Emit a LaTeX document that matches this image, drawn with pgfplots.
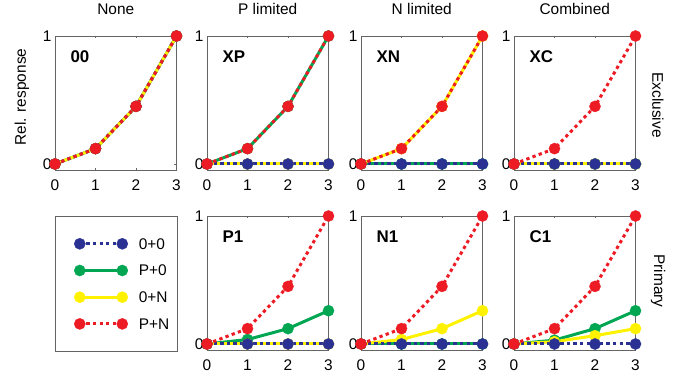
\documentclass[border=0pt]{standalone}
\usepackage{pgfplots}
\pgfplotsset{compat=1.18}
\usepackage{fontspec}
\setmainfont{Liberation Sans}
\definecolor{cB}{RGB}{43,49,146}
\definecolor{cG}{RGB}{0,166,81}
\definecolor{cY}{RGB}{255,242,0}
\definecolor{cR}{RGB}{237,28,36}
\definecolor{axgray}{RGB}{100,100,100}
\newcommand{\fs}{\fontsize{15.5}{18}\selectfont}
\newcommand{\fl}{\fontsize{17}{20}\selectfont\bfseries}
\pgfplotsset{
 panel/.style={scale only axis, width=121.5bp, height=134bp,
   xmin=0, xmax=3, ymin=-0.047, ymax=1, xtick={0,1,2,3}, ytick={0,1},
   clip=false, anchor=south west,
   axis line style={draw=axgray, line width=0.8bp},
   tick style={draw=axgray, line width=0.8bp}, major tick length=2bp,
   tick label style={font=\fs}, /pgf/number format/assume math mode=true,
   xticklabel style={yshift=-6.5bp},
   title style={at={(0.5,1)}, anchor=base, yshift=15.5bp, font=\fs}},
 sB/.style={color=cB, line width=3bp, dash pattern=on 3.3bp off 3.3bp, mark=*, mark size=5.6bp, mark options={solid, line width=0.3bp, fill=cB}},
 sG/.style={color=cG, line width=3bp, solid, mark=*, mark size=5.6bp, mark options={solid, line width=0.3bp, fill=cG}},
 sY/.style={color=cY, line width=3bp, solid, mark=*, mark size=5.6bp, mark options={solid, line width=0.3bp, fill=cY}},
 sR/.style={color=cR, line width=3bp, dash pattern=on 3.3bp off 3.3bp, mark=*, mark size=5.6bp, mark options={solid, line width=0.3bp, fill=cR}},
}
\begin{document}
\begin{tikzpicture}
\useasboundingbox (0,0) rectangle (692bp,-379bp);
% ---------------- Row 1: Exclusive
\begin{axis}[panel, at={(55bp,-170bp)}, title={None}]
\addplot[sG] coordinates {(0,0) (1,0.12) (2,0.45) (3,1)};
\addplot[sY] coordinates {(0,0) (1,0.12) (2,0.45) (3,1)};
\addplot[sB] coordinates {(0,0) (1,0.12) (2,0.45) (3,1)};
\addplot[sR] coordinates {(0,0) (1,0.12) (2,0.45) (3,1)};
\node[anchor=west, xshift=12bp, font=\fl] at (rel axis cs:0,0.843) {00};
\end{axis}
\begin{axis}[panel, at={(207bp,-170bp)}, title={P limited}]
\addplot[sG] coordinates {(0,0) (1,0.12) (2,0.45) (3,1)};
\addplot[sY] coordinates {(0,0) (1,0) (2,0) (3,0)};
\addplot[sB] coordinates {(0,0) (1,0) (2,0) (3,0)};
\addplot[sR] coordinates {(0,0) (1,0.12) (2,0.45) (3,1)};
\node[anchor=west, xshift=12bp, font=\fl] at (rel axis cs:0,0.843) {XP};
\end{axis}
\begin{axis}[panel, at={(361bp,-170bp)}, title={N limited}]
\addplot[sG] coordinates {(0,0) (1,0) (2,0) (3,0)};
\addplot[sY] coordinates {(0,0) (1,0.12) (2,0.45) (3,1)};
\addplot[sB] coordinates {(0,0) (1,0) (2,0) (3,0)};
\addplot[sR] coordinates {(0,0) (1,0.12) (2,0.45) (3,1)};
\node[anchor=west, xshift=12bp, font=\fl] at (rel axis cs:0,0.843) {XN};
\end{axis}
\begin{axis}[panel, at={(514bp,-170bp)}, title={Combined}]
\addplot[sG] coordinates {(0,0) (1,0) (2,0) (3,0)};
\addplot[sY] coordinates {(0,0) (1,0) (2,0) (3,0)};
\addplot[sB] coordinates {(0,0) (1,0) (2,0) (3,0)};
\addplot[sR] coordinates {(0,0) (1,0.12) (2,0.45) (3,1)};
\node[anchor=west, xshift=12bp, font=\fl] at (rel axis cs:0,0.843) {XC};
\end{axis}
% ---------------- Row 2: Primary
\begin{axis}[panel, at={(207bp,-350bp)},
  legend style={draw=none, fill=none, at={(axis description cs:0,1)}, anchor=north west,
    xshift=-136bp, yshift=-20bp, font=\fs, nodes={inner sep=0pt, text height=11bp, text depth=0pt}, row sep=15.5bp, column sep=11bp},
  legend cell align=left,
  legend image code/.code={\draw[mark repeat=1] plot coordinates {(0bp,0bp) (42.5bp,0bp)};}]
\addplot[sG, forget plot] coordinates {(0,0) (1,0.035) (2,0.12) (3,0.26)};
\addplot[sY, forget plot] coordinates {(0,0) (1,0) (2,0) (3,0)};
\addplot[sB, forget plot] coordinates {(0,0) (1,0) (2,0) (3,0)};
\addplot[sR, forget plot] coordinates {(0,0) (1,0.12) (2,0.45) (3,1)};
\addlegendimage{sB}\addlegendentry{0+0}
\addlegendimage{sG}\addlegendentry{P+0}
\addlegendimage{sY}\addlegendentry{0+N}
\addlegendimage{sR}\addlegendentry{P+N}
\node[anchor=west, xshift=12bp, font=\fl] at (rel axis cs:0,0.843) {P1};
\end{axis}
\begin{axis}[panel, at={(361bp,-350bp)}]
\addplot[sG] coordinates {(0,0) (1,0) (2,0) (3,0)};
\addplot[sY] coordinates {(0,0) (1,0.035) (2,0.12) (3,0.26)};
\addplot[sB] coordinates {(0,0) (1,0) (2,0) (3,0)};
\addplot[sR] coordinates {(0,0) (1,0.12) (2,0.45) (3,1)};
\node[anchor=west, xshift=12bp, font=\fl] at (rel axis cs:0,0.843) {N1};
\end{axis}
\begin{axis}[panel, at={(514bp,-350bp)}]
\addplot[sG] coordinates {(0,0) (1,0.03) (2,0.12) (3,0.26)};
\addplot[sY] coordinates {(0,0) (1,0.018) (2,0.065) (3,0.12)};
\addplot[sB] coordinates {(0,0) (1,0) (2,0) (3,0)};
\addplot[sR] coordinates {(0,0) (1,0.12) (2,0.45) (3,1)};
\node[anchor=west, xshift=12bp, font=\fl] at (rel axis cs:0,0.843) {C1};
\end{axis}
% legend frame and side labels
\draw[axgray, line width=0.8bp] (55bp,-216bp) rectangle (177bp,-351bp);
\node[rotate=90, font=\fs] at (22bp,-97bp) {Rel. response};
\node[rotate=-90, font=\fs] at (658bp,-105bp) {Exclusive};
\node[rotate=-90, font=\fs] at (658bp,-281bp) {Primary};
\end{tikzpicture}
\end{document}
